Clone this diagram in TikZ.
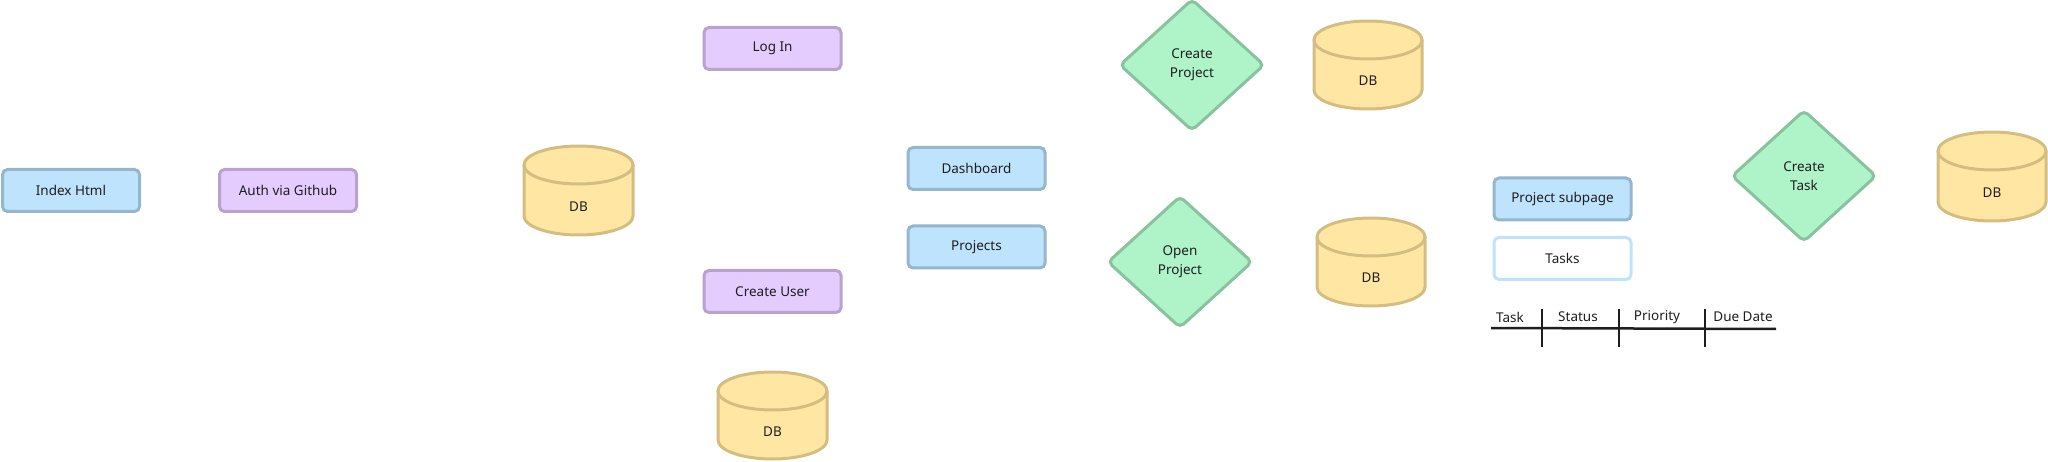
\documentclass[tikz,border=0pt]{standalone}
\usepackage{fontspec}
\setmainfont{Noto Sans}
\usetikzlibrary{shapes.geometric}
\definecolor{bluefill}{HTML}{BEE3FD}
\definecolor{blueline}{HTML}{95B6CD}
\definecolor{purpfill}{HTML}{E5CCFF}
\definecolor{purpline}{HTML}{B8A2CE}
\definecolor{greenfill}{HTML}{AFF3C9}
\definecolor{greenline}{HTML}{89C39D}
\definecolor{yelfill}{HTML}{FFE7A3}
\definecolor{yelline}{HTML}{D4BD80}
\definecolor{ink}{HTML}{1E1E1E}
\tikzset{
  every node/.style={text=ink, font=\fontsize{13.5}{19}\selectfont},
  boxbase/.style={rectangle, rounded corners=5pt, line width=3pt, minimum width=137pt, minimum height=42pt, inner sep=0pt},
  bluebox/.style={boxbase, fill=bluefill, draw=blueline},
  purpbox/.style={boxbase, fill=purpfill, draw=purpline},
  lightbox/.style={boxbase, fill=white, draw=bluefill},
  decision/.style={diamond, rounded corners=5pt, line width=3pt, fill=greenfill, draw=greenline, inner sep=0pt, align=center, minimum width=145pt, minimum height=132pt},
  dbline/.style={line width=3pt, draw=yelline, fill=yelfill},
  tabline/.style={line width=2.5pt, draw=ink},
  lbl/.style={inner sep=0pt}
}
% \dbcyl{name}{x1}{x2}{ytop}{ybottom}
\newcommand{\dbcyl}[5]{%
  \pgfmathsetmacro{\cxx}{(#2+#3)/2}%
  \pgfmathsetmacro{\rxx}{(#3-#2)/2}%
  \pgfmathsetmacro{\ctop}{#4+19}%
  \pgfmathsetmacro{\cbot}{#5-19}%
  \pgfmathsetmacro{\ctext}{(#4+#5)/2+16}%
  \path[fill=yelfill] (#2,\ctop) -- (#2,\cbot) arc[start angle=180, end angle=0, x radius=\rxx, y radius=19] -- (#3,\ctop) -- cycle;
  \draw[line width=3pt, draw=yelline] (#2,\ctop) -- (#2,\cbot) arc[start angle=180, end angle=0, x radius=\rxx, y radius=19] -- (#3,\ctop);
  \filldraw[dbline] (\cxx,\ctop) ellipse[x radius=\rxx, y radius=19];
  \node[lbl] (#1) at (\cxx,\ctext) {DB};
}
\begin{document}
\begin{tikzpicture}[x=1pt, y=-1pt]
\useasboundingbox (0,0) rectangle (2048,462);

\node[bluebox] (index) at (71,190.5) {Index Html};
\node[purpbox] (auth) at (288,190.5) {Auth via Github};
\dbcyl{db1}{524}{633}{146}{235}
\node[purpbox] (login) at (772.5,48.5) {Log In};
\node[purpbox] (createuser) at (772.5,291.5) {Create User};
\dbcyl{db2}{718}{827}{372}{459}
\node[bluebox] (dashboard) at (976.5,168.5) {Dashboard};
\node[bluebox] (projects) at (976.5,247) {Projects};
\node[decision] (createproject) at (1192,65) {Create\\Project};
\dbcyl{db3}{1314}{1422}{21}{109}
\node[decision] (openproject) at (1180,262) {Open\\Project};
\dbcyl{db4}{1317}{1425}{218}{306}
\node[bluebox] (subpage) at (1562.5,199) {Project subpage};
\node[lightbox] (tasks) at (1562.5,258.5) {Tasks};
\node[decision] (createtask) at (1804,176) {Create\\Task};
\dbcyl{db5}{1938}{2046}{132}{221}

% task table
\coordinate (tl) at (1491,328);
\coordinate (tr) at (1776,329);
\draw[tabline] (tl) -- (tr);
\coordinate (v1t) at (1542,309); \coordinate (v1b) at (1542,347);
\coordinate (v2t) at (1619,309); \coordinate (v2b) at (1619,347);
\coordinate (v3t) at (1705,309); \coordinate (v3b) at (1705,347);
\draw[tabline] (v1t) -- (v1b);
\draw[tabline] (v2t) -- (v2b);
\draw[tabline] (v3t) -- (v3b);
\node[lbl] (ttask) at (1510,317) {Task};
\node[lbl] (tstatus) at (1578,317) {Status};
\node[lbl] (tprio) at (1657,317) {Priority};
\node[lbl] (tdue) at (1743,317) {Due Date};
\end{tikzpicture}
\end{document}
